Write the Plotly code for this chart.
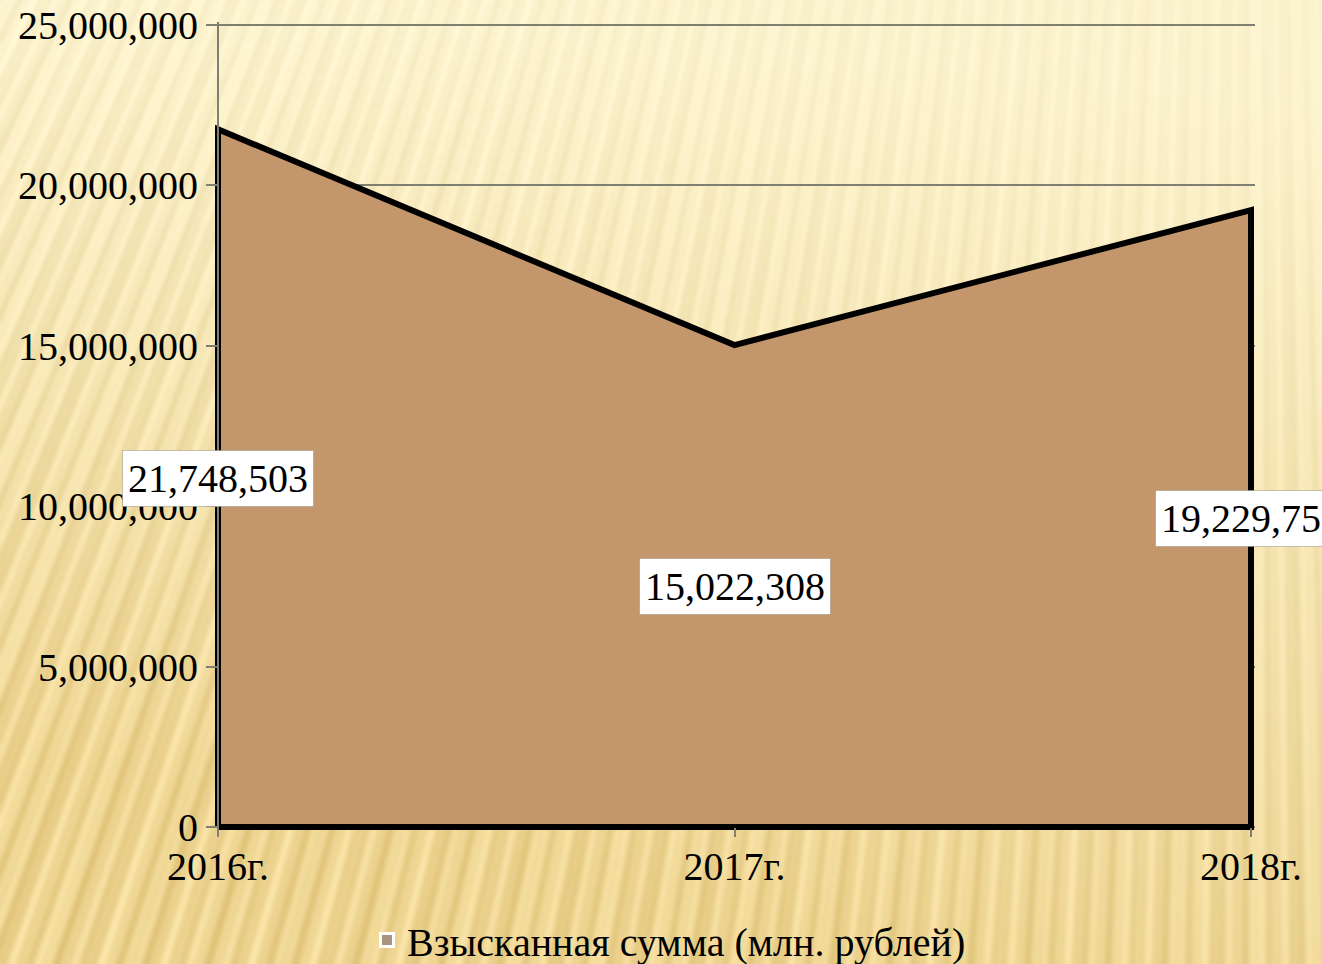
import base64
import struct
import zlib

import numpy as np
import plotly.graph_objects as go

# ---------------- data ----------------
years = ["2016г.", "2017г.", "2018г."]
values = [21748503, 15022308, 19229750]
value_labels = ["21,748,503", "15,022,308", "19,229,750"]
y_ticks = [0, 5000000, 10000000, 15000000, 20000000, 25000000]
y_tick_labels = ["0", "5,000,000", "10,000,000", "15,000,000", "20,000,000", "25,000,000"]
series_name = "Взысканная сумма (млн. рублей)"

# ---------------- background (decorative slide texture) ----------------
W, H = 1322, 964


def make_bg(w=661, h=482):
    yy, xx = np.mgrid[0:h, 0:w].astype(float)
    X = xx / w * W
    Y = yy / h * H
    t = np.clip((Y / H) * 1.0 + (1 - X / W) * 0.3 * (0.3 + Y / H) - 0.1, 0, 1)
    light = np.array([252.0, 243.0, 206.0])
    dark = np.array([238.0, 213.0, 146.0])
    base = light[None, None, :] * (1 - t[..., None]) + dark[None, None, :] * t[..., None]
    cx, cy = 1250.0, -2500.0
    theta = np.arctan2(X - cx, Y - cy)
    s = np.sin(theta * 800) + 0.45 * np.sin(theta * 1900 + 1.3) + 0.3 * np.sin(theta * 330 + 0.4)
    amp = 2 + 6 * (Y / H) + 3 * (1 - X / W)
    img = base + (s * amp)[..., None] * np.array([0.8, 1.0, 1.4])[None, None, :]
    return np.clip(img, 0, 255).astype(np.uint8)


def png_uri(arr):
    h, w, _ = arr.shape
    raw = b"".join(b"\x00" + arr[i].tobytes() for i in range(h))

    def chunk(tag, data):
        c = struct.pack(">I", len(data)) + tag + data
        return c + struct.pack(">I", zlib.crc32(tag + data) & 0xFFFFFFFF)

    png = (b"\x89PNG\r\n\x1a\n"
           + chunk(b"IHDR", struct.pack(">IIBBBBB", w, h, 8, 2, 0, 0, 0))
           + chunk(b"IDAT", zlib.compress(raw, 9))
           + chunk(b"IEND", b""))
    return "data:image/png;base64," + base64.b64encode(png).decode()


bg_uri = png_uri(make_bg())

# ---------------- geometry ----------------
ML, MR, MT, MB = 214, 67, 22, 133
PW = W - ML - MR
PH = H - MT - MB
y_top = 25000000
unit = y_top / (PH - 7)          # value per pixel (approx)
dx = 4 / (PW - 8) * 2            # tiny padding so the thick outline isn't clipped
y_lo = -4 * unit
y_hi = y_top + 3 * unit

FONT = "Liberation Serif, Times New Roman, serif"
FS = 40

# closed polygon built from the data
poly_x = [years[0]] + years + [years[-1], years[0]]
poly_y = [0] + values + [0, 0]

fig = go.Figure()
fig.add_trace(go.Scatter(
    x=poly_x, y=poly_y, mode="lines", fill="toself",
    fillcolor="#C3966B", line=dict(color="black", width=6),
    showlegend=False, hoverinfo="skip",
))
fig.add_trace(go.Scatter(
    x=[None], y=[None], mode="markers", name=series_name,
    marker=dict(symbol="square", size=13, color="#A8957F",
                line=dict(color="white", width=3)),
))

for xv, v, lab in zip(years, values, value_labels):
    fig.add_annotation(
        x=xv, y=v / 2, text=lab, showarrow=False,
        font=dict(family=FONT, size=FS, color="black"),
        bgcolor="white", borderpad=5,
        bordercolor="rgba(150,140,120,0.5)", borderwidth=1,
    )

fig.add_layout_image(
    source=bg_uri, xref="paper", yref="paper",
    x=-ML / PW, y=1 + MT / PH, sizex=W / PW, sizey=H / PH,
    xanchor="left", yanchor="top", sizing="stretch", layer="below",
)

fig.update_layout(
    width=W, height=H,
    margin=dict(l=ML, r=MR, t=MT, b=MB, pad=0, autoexpand=False),
    paper_bgcolor="#F3E2AA",
    plot_bgcolor="rgba(0,0,0,0)",
    font=dict(family=FONT, size=FS, color="black"),
    showlegend=True,
    legend=dict(
        orientation="h", x=(669 - ML) / PW, xanchor="center",
        y=(H - MB - 940) / PH, yanchor="middle",
        font=dict(family=FONT, size=FS, color="black"),
        bgcolor="rgba(0,0,0,0)", itemwidth=30,
    ),
    xaxis=dict(
        type="category", range=[-dx, 2 + dx],
        showgrid=False, zeroline=False, showline=False,
        ticks="outside", ticklen=9, tickwidth=2, tickcolor="#7f7f72",
        anchor="free", position=4 / PH, ticklabelstandoff=-5,
        tickfont=dict(family=FONT, size=FS, color="black"),
        fixedrange=True,
    ),
    yaxis=dict(
        range=[y_lo, y_hi],
        tickvals=y_ticks, ticktext=y_tick_labels,
        showgrid=True, gridcolor="#7f7f72", gridwidth=2,
        zeroline=False, showline=True, linecolor="#7f7f72", linewidth=2,
        ticks="outside", ticklen=11, tickwidth=2, tickcolor="#7f7f72",
        anchor="free", position=4 / PW,
        tickfont=dict(family=FONT, size=FS, color="black"),
        fixedrange=True,
    ),
)

fig.write_html(
    "out.html",
    config={"displayModeBar": False},
    post_script="document.body.style.margin='0';document.body.style.overflow='hidden';",
)
